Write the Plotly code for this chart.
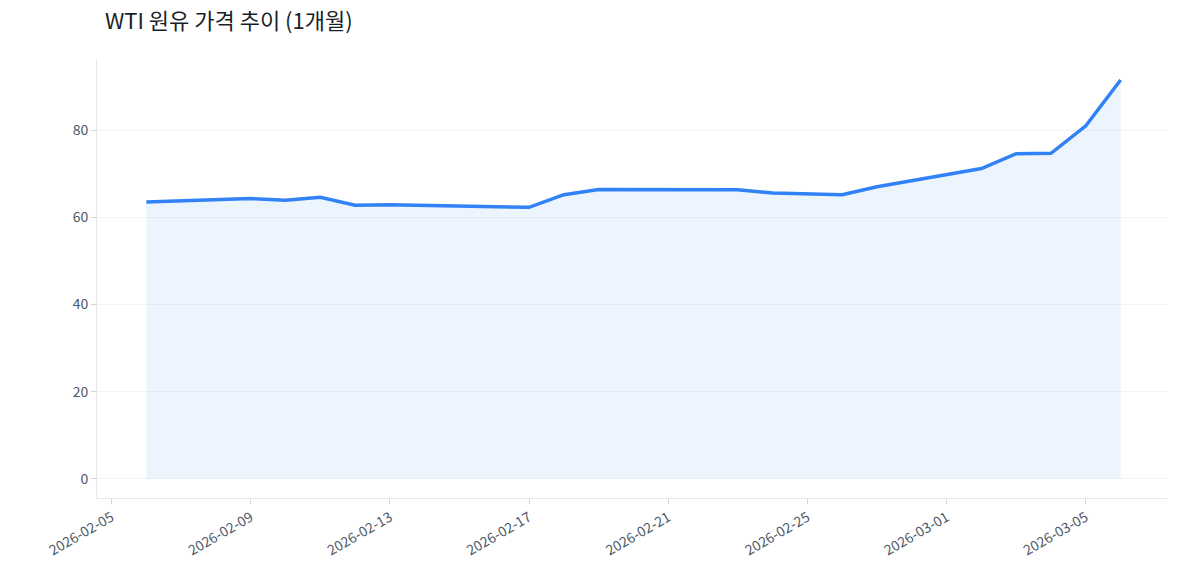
import plotly.graph_objects as go

dates = ["2026-02-06","2026-02-09","2026-02-10","2026-02-11","2026-02-12","2026-02-13",
         "2026-02-17","2026-02-18","2026-02-19","2026-02-23","2026-02-24","2026-02-25",
         "2026-02-26","2026-02-27","2026-03-02","2026-03-03","2026-03-04","2026-03-05","2026-03-06"]
prices = [63.5,64.3,63.9,64.6,62.8,62.9,62.3,65.2,66.4,66.3,65.6,65.4,65.2,67.0,71.2,74.6,74.7,81.0,91.5]
tick_vals = ["2026-02-05","2026-02-09","2026-02-13","2026-02-17","2026-02-21","2026-02-25","2026-03-01","2026-03-05"]

fig = go.Figure(go.Scatter(x=dates, y=prices, mode="lines", fill="tozeroy",
    line=dict(color="#3182f6", width=3.5), fillcolor="rgba(49,130,246,0.09)"))
fig.update_layout(
    width=1183, height=585, plot_bgcolor="white", paper_bgcolor="white",
    margin=dict(l=89, r=24, t=52, b=95),
    title=dict(text="WTI 원유 가격 추이 (1개월)", x=0.082, y=0.99, yanchor="top", xanchor="left",
               font=dict(size=22, color="#191f28", family="Noto Sans CJK KR")),
    font=dict(family="Noto Sans CJK KR", color="#4e5968", size=14),
    showlegend=False,
)
fig.update_xaxes(type="date", range=["2026-02-04 14:00", "2026-03-07 08:00"],
    tickvals=tick_vals, ticktext=tick_vals, tickangle=-30, showgrid=False,
    showline=True, linecolor="#e5e8eb", ticks="outside", tickcolor="#d1d6db", ticklen=5)
fig.update_yaxes(range=[-4.4, 96.1], tickvals=[0,20,40,60,80], gridcolor="#f2f4f6",
    showline=True, linecolor="#e5e8eb", ticks="outside", tickcolor="#d1d6db", ticklen=5, zeroline=False)
fig.write_html("out.html")
